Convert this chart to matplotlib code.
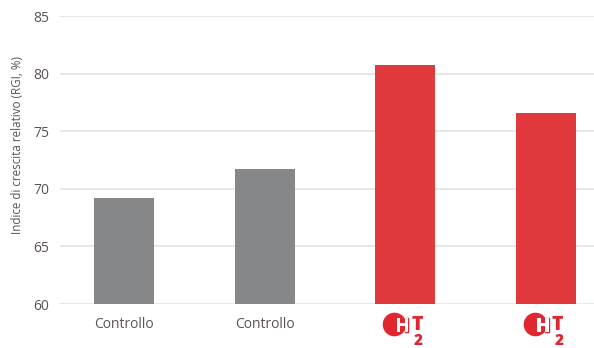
import matplotlib
matplotlib.use("Agg")
import matplotlib.pyplot as plt
import matplotlib.patheffects as pe
from matplotlib.transforms import blended_transform_factory, offset_copy

plt.rcParams["font.family"] = ["Open Sans", "DejaVu Sans"]

categories = ["Controllo", "Controllo", "HT2", "HT2"]
values = [69.2, 71.7, 80.75, 76.6]
bar_colors = ["#858789", "#858789", "#e03a3e", "#e03a3e"]
yticks = [60, 65, 70, 75, 80, 85]

text_color = "#5b5252"
grid_color = "#e8e4e2"
logo_red = "#e0262e"

W, H = 594, 348
fig = plt.figure(figsize=(W / 100, H / 100), dpi=100)
ax = fig.add_axes([60 / W, 44 / H, (594 - 60) / W, (304 - 16) / H])

x = list(range(len(values)))
ax.bar(x, [v - 60 for v in values], bottom=60, width=0.426, color=bar_colors, zorder=2)

ax.set_ylim(60, 85)
ax.set_xlim(-0.455, 3.34)
ax.set_yticks(yticks)
ax.tick_params(axis="y", length=0, pad=8, labelsize=10, labelcolor=text_color)
ax.tick_params(axis="x", length=0, labelbottom=False)
ax.grid(axis="y", color=grid_color, linewidth=1.3, zorder=0)
for spine in ax.spines.values():
    spine.set_visible(False)

fig.text(18 / W, 1 - 145 / H, "Indice di crescita relativo (RGI, %)",
         rotation=90, ha="center", va="center", fontsize=8.4, color=text_color)

# category labels under the bars; the treated groups get the HT2 logo
trans = blended_transform_factory(ax.transData, ax.transAxes)
for i, name in enumerate(categories):
    if name == "Controllo":
        ax.annotate(name, xy=(i, 0), xycoords=trans, xytext=(0, -20),
                    textcoords="offset pixels", ha="center", va="center",
                    fontsize=10, color=text_color)
        continue
    circ = offset_copy(trans, fig=fig, x=-11.5, y=-20, units="dots")
    ax.plot([i], [0], "o", markersize=17, color=logo_red, markeredgewidth=0,
            transform=circ, clip_on=False, zorder=5)
    ax.annotate("H", xy=(i, 0), xycoords=trans, xytext=(-3, -20),
                textcoords="offset pixels", ha="center", va="center_baseline",
                fontsize=14, fontweight="heavy", color="white", zorder=6,
                path_effects=[pe.withStroke(linewidth=1.0, foreground=logo_red)])
    ax.annotate("T", xy=(i, 0), xycoords=trans, xytext=(11.5, -19),
                textcoords="offset pixels", ha="center", va="center_baseline",
                fontsize=14, fontweight="heavy", color=logo_red, zorder=6)
    ax.annotate("2", xy=(i, 0), xycoords=trans, xytext=(13, -35),
                textcoords="offset pixels", ha="center", va="center_baseline",
                fontsize=11, fontweight="heavy", color=logo_red, zorder=6)

fig.savefig("out.png", dpi=100)
